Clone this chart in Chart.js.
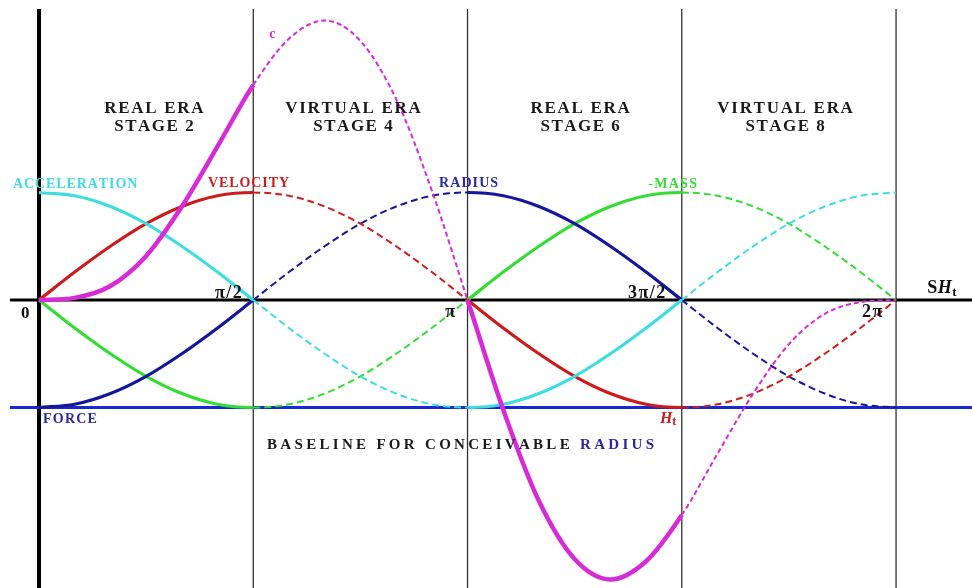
<!DOCTYPE html>
<html>
<head>
<meta charset="utf-8">
<script src="https://cdn.jsdelivr.net/npm/chart.js@4.4.1/dist/chart.umd.min.js"></script>
<style>
  html, body { margin: 0; padding: 0; background: #fff; }
  #wrap { width: 972px; height: 588px; }
</style>
</head>
<body>
<div id="wrap"><canvas id="chart" width="972" height="588"></canvas></div>
<script>
// ===== data (angle in degrees) =====
const angles = [0, 15, 30, 45, 60, 75, 90, 105, 120, 135, 150, 165, 180,
  195, 210, 225, 240, 255, 270, 285, 300, 315, 330, 345, 360]

const acceleration = [1, .97, .87, .71, .5, .26, 0, -.26, -.5, -.71, -.87, -.97, -1,
  -.97, -.87, -.71, -.5, -.26, 0, .26, .5, .71, .87, .97, 1]
const velocity = [0, .26, .5, .71, .87, .97, 1, .97, .87, .71, .5, .26, 0,
  -.26, -.5, -.71, -.87, -.97, -1, -.97, -.87, -.71, -.5, -.26, 0]
const radius = [-1, -.97, -.87, -.71, -.5, -.26, 0, .26, .5, .71, .87, .97, 1,
  .97, .87, .71, .5, .26, 0, -.26, -.5, -.71, -.87, -.97, -1]
const mass = [0, -.26, -.5, -.71, -.87, -.97, -1, -.97, -.87, -.71, -.5, -.26, 0,
  .26, .5, .71, .87, .97, 1, .97, .87, .71, .5, .26, 0]
const cCurve = [0, .02, .13, .41, .87, 1.43, 2, 2.43, 2.6, 2.41, 1.87, 1.02, 0,
  -1.02, -1.87, -2.41, -2.6, -2.43, -2, -1.43, -.87, -.41, -.13, -.02, 0]

const stageLines = [0, 90, 180, 270, 360]      // vertical dividers
const axisSpan = [-12.2, 392]                  // horizontal axis / baseline extent
const axisLevel = 0
const baselineLevel = -1

// ===== helpers =====
const pts = vals => angles.map((a, i) => ({ x: a, y: vals[i] }))
// solid in stages 1 & 3, dashed in 2 & 4
const isSolid = ctx => Math.floor(ctx.p0.parsed.x / 90 + 1e-6) % 2 === 0

function curve(label, vals, color, solidW, dashW, dash) {
  return {
    label, data: pts(vals), borderColor: color,
    borderWidth: solidW, pointRadius: 0, fill: false,
    cubicInterpolationMode: 'monotone',
    segment: {
      borderDash: ctx => isSolid(ctx) ? undefined : dash,
      borderWidth: ctx => isSolid(ctx) ? solidW : dashW,
    }
  }
}

const Y_MIN = -2.679, Y_MAX = 2.791

const datasets = [
  curve('c', cCurve, '#d62bd6', 4.5, 2, [5, 3]),
  curve('acceleration', acceleration, '#3fdde0', 3.2, 2, [7, 4]),
  curve('velocity', velocity, '#cc1b1b', 3.2, 2, [7, 4]),
  curve('radius', radius, '#16169a', 3.2, 2, [7, 4]),
  curve('mass', mass, '#33dd33', 3.2, 2, [7, 4]),
  { label: 'axis', data: axisSpan.map(x => ({ x, y: axisLevel })), borderColor: '#000', borderWidth: 3, pointRadius: 0 },
  { label: 'baseline', data: axisSpan.map(x => ({ x, y: baselineLevel })), borderColor: '#1528d2', borderWidth: 3, pointRadius: 0 },
]
stageLines.forEach(x => {
  datasets.push({
    label: 'v' + x, data: [{ x, y: 2.707 }, { x, y: Y_MIN }],
    borderColor: x === 0 ? '#000' : '#333', borderWidth: x === 0 ? 4 : 1.3, pointRadius: 0
  })
})

// ===== text annotations (positions in data units: degrees / value) =====
const SERIF = '"Liberation Serif", "Times New Roman", serif'
const B = s => `bold ${s}px ${SERIF}`
const BI = s => `italic bold ${s}px ${SERIF}`

const notes = [
  { x: 48.3, y: 1.74, align: 'center', sp: 1.7, runs: [['REAL ERA', B(17), '#1a1a1a']] },
  { x: 48.3, y: 1.572, align: 'center', sp: 1.5, runs: [['STAGE 2', B(17), '#1a1a1a']] },
  { x: 131.9, y: 1.74, align: 'center', sp: 1.7, runs: [['VIRTUAL ERA', B(17), '#1a1a1a']] },
  { x: 131.9, y: 1.572, align: 'center', sp: 1.5, runs: [['STAGE 4', B(17), '#1a1a1a']] },
  { x: 227.3, y: 1.74, align: 'center', sp: 1.7, runs: [['REAL ERA', B(17), '#1a1a1a']] },
  { x: 227.3, y: 1.572, align: 'center', sp: 1.5, runs: [['STAGE 6', B(17), '#1a1a1a']] },
  { x: 313.4, y: 1.74, align: 'center', sp: 1.7, runs: [['VIRTUAL ERA', B(17), '#1a1a1a']] },
  { x: 313.4, y: 1.572, align: 'center', sp: 1.5, runs: [['STAGE 8', B(17), '#1a1a1a']] },

  { x: -10.9, y: 1.042, sp: 0.9, runs: [['ACCELERATION', B(14), '#3fdde0']] },
  { x: 71.0, y: 1.051, sp: 0.9, runs: [['VELOCITY', B(14), '#cc1b1b']] },
  { x: 168.0, y: 1.051, sp: 1.1, runs: [['RADIUS', B(14), '#2a2aa0']] },
  { x: 255.9, y: 1.042, sp: 1.3, runs: [['-MASS', B(14), '#33dd33']] },
  { x: 96.7, y: 2.437, sp: 0, runs: [['c', B(14), '#d62bd6']] },
  { x: 1.7, y: -1.144, sp: 1.2, runs: [['FORCE', B(14), '#2a2a9a']] },
  { x: 260.8, y: -1.144, sp: 0, runs: [['H', BI(16), '#cc1b1b'], ['t', B(12), '#cc1b1b', 2]] },
  { x: 95.8, y: -1.386, sp: 3.3, runs: [['BASELINE FOR CONCEIVABLE ', B(15), '#1a1a1a'], ['RADIUS', B(15), '#2a2aa0']] },

  { x: -7.6, y: -0.167, sp: 0, runs: [['0', B(17), '#111']] },
  { x: 85.2, y: 0.019, align: 'right', sp: 1.5, runs: [['π/2', B(18), '#111']] },
  { x: 170.6, y: -0.158, sp: 0, runs: [['π', B(18), '#111']] },
  { x: 247.4, y: 0.019, sp: 1.5, runs: [['3π/2', B(18), '#111']] },
  { x: 345.7, y: -0.158, sp: 1.5, runs: [['2π', B(18), '#111']] },
  { x: 373.1, y: 0.065, sp: 0.5, runs: [['S', B(18), '#111'], ['H', BI(18), '#111'], ['t', B(13), '#111', 3]] },
]

function runWidth(ctx, text, font, sp) {
  ctx.font = font
  let w = 0
  for (const ch of text) w += ctx.measureText(ch).width + sp
  return w
}

const notesPlugin = {
  id: 'notes',
  afterDatasetsDraw(chart) {
    const ctx = chart.ctx
    const xs = chart.scales.x, ys = chart.scales.y
    ctx.save()
    ctx.textBaseline = 'alphabetic'
    ctx.textAlign = 'left'
    notes.forEach(n => {
      const total = n.runs.reduce((s, r) => s + runWidth(ctx, r[0], r[1], n.sp), 0) - n.sp
      let px = xs.getPixelForValue(n.x)
      const py = ys.getPixelForValue(n.y)
      if (n.align === 'center') px -= total / 2
      else if (n.align === 'right') px -= total
      n.runs.forEach(([text, font, color, dy]) => {
        ctx.font = font
        ctx.fillStyle = color
        for (const ch of text) {
          ctx.fillText(ch, px, py + (dy || 0))
          px += ctx.measureText(ch).width + n.sp
        }
      })
    })
    ctx.restore()
  }
}

new Chart(document.getElementById('chart'), {
  type: 'line',
  data: { datasets },
  options: {
    responsive: false,
    animation: false,
    devicePixelRatio: 1,
    layout: { padding: 0 },
    plugins: { legend: { display: false }, tooltip: { enabled: false } },
    elements: { line: { borderCapStyle: 'butt' } },
    scales: {
      x: { type: 'linear', display: false, min: -16.38, max: 391.9 },
      y: { type: 'linear', display: false, min: Y_MIN, max: Y_MAX },
    }
  },
  plugins: [notesPlugin]
})
</script>
</body>
</html>
